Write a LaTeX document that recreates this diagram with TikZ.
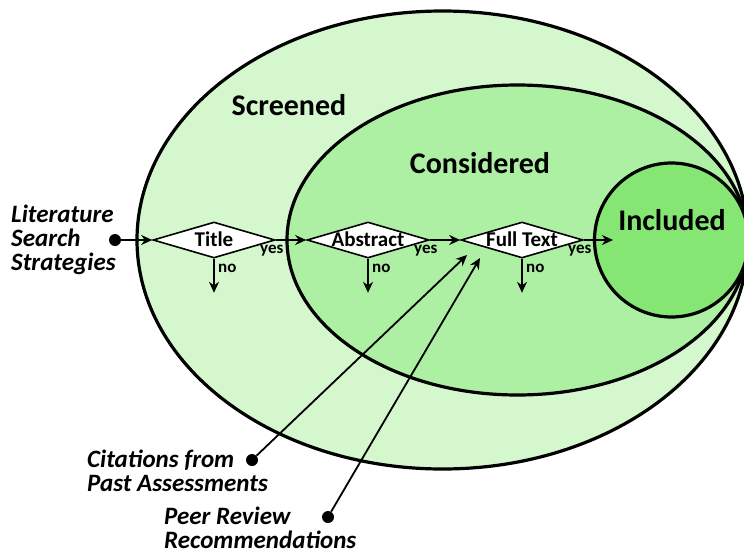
\documentclass[tikz,border=0pt]{standalone}
\usepackage{fontspec}
\setmainfont{Carlito}
\usetikzlibrary{shapes.geometric,arrows.meta,positioning,calc}
\definecolor{screengreen}{RGB}{212,247,206}
\definecolor{considgreen}{RGB}{173,240,163}
\definecolor{inclgreen}{RGB}{134,230,115}
\tikzset{
  ring/.style={draw=black,line width=3.2pt},
  gate/.style={diamond,draw=black,fill=white,line width=1.6pt,minimum width=122pt,minimum height=36pt,inner sep=0pt,aspect=3.6,text height=13pt,text depth=0pt,font=\fontsize{21}{21}\selectfont\bfseries},
  flow/.style={line width=1.8pt,-{Stealth[length=11pt,width=10pt]}},
  lbl/.style={font=\fontsize{17}{17}\selectfont\bfseries,inner sep=0pt},
  src/.style={font=\fontsize{25}{24}\selectfont\bfseries\itshape,align=left,inner sep=0pt},
  dot/.style={circle,fill=black,minimum size=12pt,inner sep=0pt},
  setname/.style={font=\fontsize{30}{30}\selectfont\bfseries}
}

\begin{document}
\begin{tikzpicture}[x=1pt,y=-1pt]
                    \useasboundingbox (0,0) rectangle (744,554);
                    % nested sets
                    \draw[ring,fill=screengreen] (442.5,240) ellipse [x radius=305.5pt,y radius=229pt];
                    \draw[ring,fill=considgreen] (517.5,240) ellipse [x radius=230.5pt,y radius=155pt];
                    \draw[ring,fill=inclgreen] (671.5,240) circle [radius=77pt];
                    \node[setname] (screened) at (289,105) {Screened};
                    \node[setname] (considered) at (480,163) {Considered};
                    \node[setname] (included) at (672,220) {Included};
                    % decisions
                    \node[gate] (title) at (214,240) {Title};
                    \node[gate] (abstract) at (368,240) {Abstract};
                    \node[gate] (fulltext) at (522,240) {Full Text};
                    \coordinate (inc) at (613,240);
                    \foreach \g in {title,abstract,fulltext}{
                    \coordinate (\g no) at ($(\g.south)+(0,34)$);
                    \draw[flow] (\g.south) -- (\g no);
                    \node[lbl,anchor=west] at ($(\g.south)+(4,10)$) {no};
                    \node[lbl,anchor=north] at ($(\g.east)+(-4,5)$) {yes};
                    }
                    \draw[flow] (title) -- (abstract);
                    \draw[flow] (abstract) -- (fulltext);
                    \draw[flow] (fulltext) -- (inc);
                    % sources
                    \node[src,anchor=west] (lit) at (11,240) {Literature\\Search\\Strategies};
                    \node[dot] (litdot) at (115,240) {};
                    \draw[flow] (litdot) -- (title);
                    \node[src,anchor=west] (cite) at (87,471) {Citations from\\Past Assessments};
                    \node[dot] (citedot) at (252,460) {};
                    \coordinate (citetip) at (467,255);
                    \draw[flow] (citedot) -- (citetip);
                    \node[src,anchor=west] (peer) at (164,528) {Peer Review\\Recommendations};
                    \node[dot] (peerdot) at (328,517) {};
                    \coordinate (peertip) at (480,258);
                    \draw[flow] (peerdot) -- (peertip);
\end{tikzpicture}
\end{document}
